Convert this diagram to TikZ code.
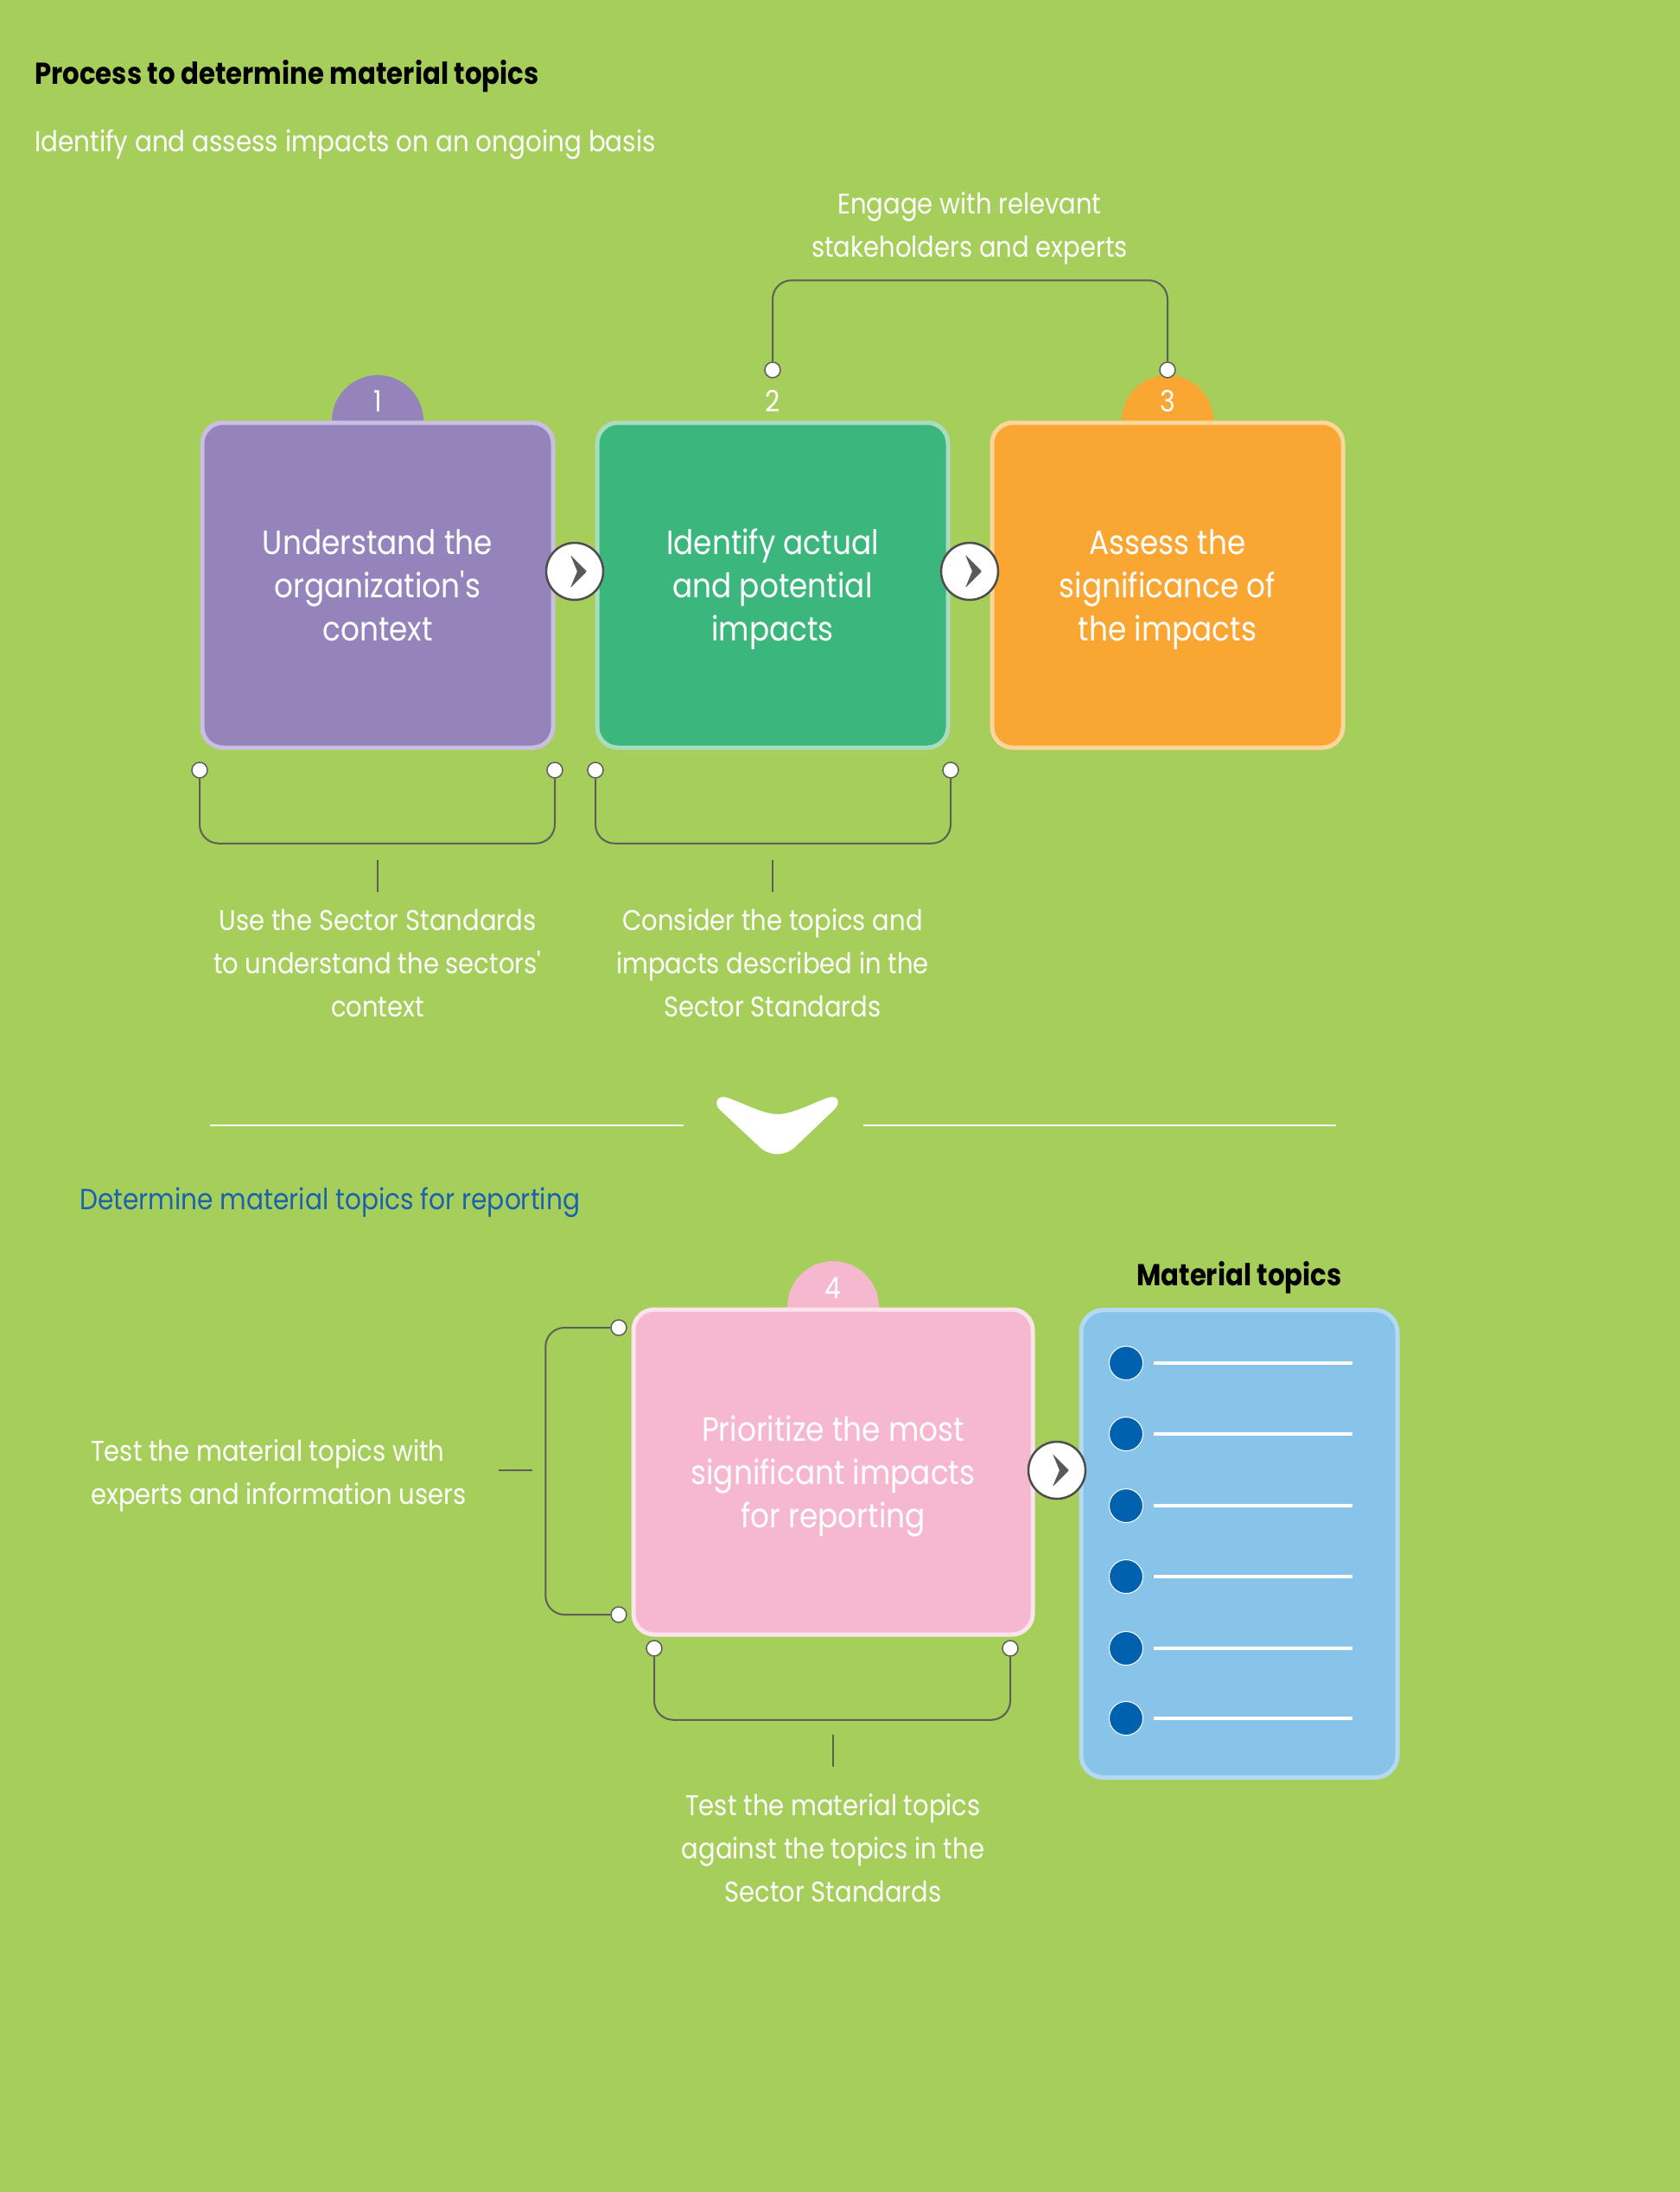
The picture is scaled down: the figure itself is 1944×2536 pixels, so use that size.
\documentclass[tikz,border=0pt]{standalone}
\usepackage{fontspec}
\setmainfont{Poppins}[FakeStretch=0.88]

\definecolor{pagebg}{HTML}{A6CE5B}
\definecolor{purplefill}{HTML}{9583BC}
\definecolor{purpleedge}{HTML}{CABFE0}
\definecolor{greenfill}{HTML}{3BB77E}
\definecolor{greenedge}{HTML}{AADDC0}
\definecolor{orangefill}{HTML}{F9A632}
\definecolor{orangeedge}{HTML}{FDD69B}
\definecolor{pinkfill}{HTML}{F5B8CF}
\definecolor{pinkedge}{HTML}{FCE4EC}
\definecolor{bluefill}{HTML}{88C4EA}
\definecolor{blueedge}{HTML}{B4DAF3}
\definecolor{bulletblue}{HTML}{0062AF}
\definecolor{headblue}{HTML}{1B61AD}
\definecolor{conngray}{HTML}{5C5F5A}
\definecolor{btnedge}{HTML}{4D4D4F}
\definecolor{chevgray}{HTML}{58595B}

\tikzset{
  stepbox/.style={rectangle, rounded corners=24, line width=5,
    minimum width=406, minimum height=376, inner sep=0,
    text=white, align=center, font=\fontsize{39}{50}\selectfont},
  tab/.style={circle, minimum size=106, inner sep=0},
  numtxt/.style={text=white, inner sep=0, font=\fontsize{34}{40}\selectfont},
  dot/.style={circle, fill=white, draw=conngray, line width=1.5,
    minimum size=18, inner sep=0},
  conn/.style={draw=conngray, line width=2, rounded corners=22},
  tick/.style={draw=conngray, line width=2},
  labeltxt/.style={text=white, align=center, inner sep=0,
    font=\fontsize{33}{50}\selectfont},
  arrowbtn/.style={circle, fill=white, draw=btnedge, line width=2.5,
    minimum size=66, inner sep=0,
    path picture={\fill[chevgray, rounded corners=1]
      ([shift={(-5,-19)}]path picture bounding box.center) --
      ([shift={(14,0)}]path picture bounding box.center) --
      ([shift={(-5,19)}]path picture bounding box.center) --
      ([shift={(3,0)}]path picture bounding box.center) -- cycle;}},
  bullet/.style={circle, fill=bulletblue, draw=white, line width=1,
    minimum size=39, inner sep=0},
  rule/.style={draw=white, line width=4},
}

\begin{document}
\begin{tikzpicture}[x=1pt, y=-1pt]
  % page
  \fill[pagebg] (0,0) rectangle (1944,2536);
  \useasboundingbox (0,0) rectangle (1944,2536);

  % headings
  \node[anchor=base west, inner sep=0, font=\fontsize{35}{40}\selectfont\bfseries]
    (title) at (40,97) {Process to determine material topics};
  \node[anchor=base west, inner sep=0, text=white, font=\fontsize{33.4}{40}\selectfont]
    (subtitle) at (40,175) {Identify and assess impacts on an ongoing basis};

  % number tabs behind the step boxes
  \node[tab, fill=purplefill] (tab1) at (437,487) {};
  \node[tab, fill=orangefill] (tab3) at (1351,487) {};
  \node[tab, fill=pinkfill] (tab4) at (964,1512) {};

  % steps 1--3 (last lines smashed so every box centres its text alike)
  \node[stepbox, fill=purplefill, draw=purpleedge] (b1) at (437,677)
    {Understand the\\organization\textquotesingle s\\\smash{context}};
  \node[stepbox, fill=greenfill, draw=greenedge] (b2) at (894,677)
    {Identify actual\\and potential\\\smash{impacts}};
  \node[stepbox, fill=orangefill, draw=orangeedge] (b3) at (1351,677)
    {Assess the\\significance of\\\smash{the impacts}};

  \node[numtxt] (n1) at (437,464) {1};
  \node[numtxt] (n2) at (894,464) {2};
  \node[numtxt] (n3) at (1351,464) {3};

  \node[arrowbtn] (a1) at (665,661) {};
  \node[arrowbtn] (a2) at (1122,661) {};

  % stakeholder engagement bracket over steps 2 and 3
  \node[labeltxt] (engage) at (1122,264)
    {Engage with relevant\\stakeholders and experts};
  \node[dot] (e2) at (894,428) {};
  \node[dot] (e3) at (1351,428) {};
  \draw[conn] (e2.north) -- ++(0,-94) -| (e3.north);

  % brackets under steps 1 and 2
  \node[dot] (d1a) at (231,891) {};
  \node[dot] (d1b) at (642,891) {};
  \node[dot] (d2a) at (689,891) {};
  \node[dot] (d2b) at (1100,891) {};
  \draw[conn] (d1a.south) -- ++(0,75) -| (d1b.south);
  \draw[conn] (d2a.south) -- ++(0,75) -| (d2b.south);

  \node[labeltxt] (lab1) at (437,1114)
    {Use the Sector Standards\\to understand the sectors\textquotesingle\\context};
  \node[labeltxt] (lab2) at (894,1114)
    {Consider the topics and\\impacts described in the\\Sector Standards};
  \coordinate (t1a) at (437,995);
  \coordinate (t1b) at (437,1032);
  \coordinate (t2a) at (894,995);
  \coordinate (t2b) at (894,1032);
  \draw[tick] (t1a) -- (t1b);
  \draw[tick] (t2a) -- (t2b);

  % divider with downward chevron
  \coordinate (r1a) at (243,1302);
  \coordinate (r1b) at (791,1302);
  \coordinate (r2a) at (999,1302);
  \coordinate (r2b) at (1546,1302);
  \draw[white, line width=2] (r1a) -- (r1b);
  \draw[white, line width=2] (r2a) -- (r2b);
  \fill[white] (832,1283)
    .. controls (826,1276) and (830,1266) .. (842,1270)
    .. controls (866,1279) and (884,1289) .. (900,1289)
    .. controls (916,1289) and (934,1279) .. (958,1270)
    .. controls (970,1266) and (973,1276) .. (966,1283)
    -- (920,1327)
    .. controls (908,1338) and (891,1338) .. (879,1327)
    -- cycle;

  \node[anchor=base west, inner sep=0, text=headblue, font=\fontsize{33.7}{40}\selectfont]
    (head2) at (92,1399) {Determine material topics for reporting};

  % step 4
  \node[stepbox, minimum width=462, fill=pinkfill, draw=pinkedge] (b4) at (964,1703)
    {Prioritize the most\\significant impacts\\\smash{for reporting}};
  \node[numtxt] (n4) at (964,1490) {4};

  % material topics list
  \node[anchor=base, inner sep=0, font=\fontsize{35}{40}\selectfont\bfseries]
    (mthead) at (1434,1487) {Material topics};
  \node[rectangle, rounded corners=26, line width=5, fill=bluefill, draw=blueedge,
    minimum width=366, minimum height=541] (mt) at (1434,1786) {};
  \foreach \i/\y in {1/1577, 2/1659, 3/1742, 4/1824, 5/1907, 6/1988} {
    \node[bullet] (m\i) at (1303,\y) {};
    \coordinate (ml\i) at (1565,\y);
    \draw[rule] ([xshift=12]m\i.east) -- (ml\i);
  }

  \node[arrowbtn] (a3) at (1223,1701) {};

  % bracket on the left of step 4
  \node[dot] (f1) at (716,1536) {};
  \node[dot] (f2) at (716,1868) {};
  \draw[conn] (f1.west) -- ++(-75,0) |- (f2.west);
  \coordinate (t3a) at (577,1701);
  \coordinate (t3b) at (616,1701);
  \draw[tick] (t3a) -- (t3b);
  \node[labeltxt, align=left, anchor=west] (lab3) at (105,1707)
    {Test the material topics with\\experts and information users};

  % bracket under step 4
  \node[dot] (g1) at (757,1907) {};
  \node[dot] (g2) at (1169,1907) {};
  \draw[conn] (g1.south) -- ++(0,73) -| (g2.south);
  \coordinate (t4a) at (964,2007);
  \coordinate (t4b) at (964,2044);
  \draw[tick] (t4a) -- (t4b);
  \node[labeltxt] (lab4) at (964,2138)
    {Test the material topics\\against the topics in the\\Sector Standards};
\end{tikzpicture}
\end{document}
